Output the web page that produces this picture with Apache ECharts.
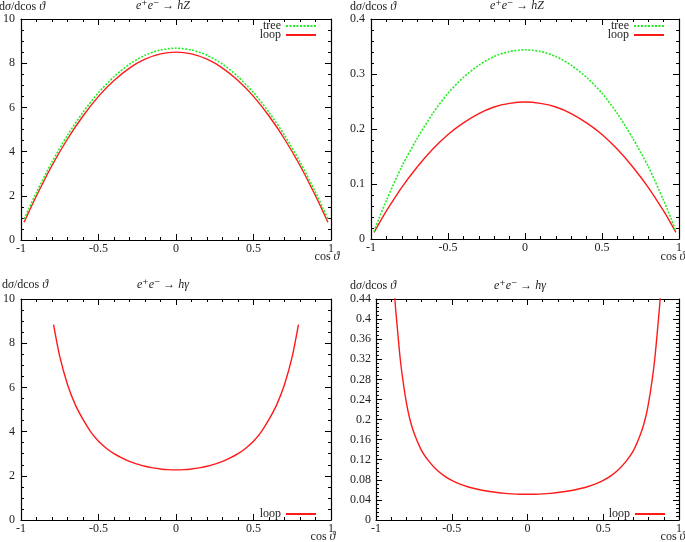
<!DOCTYPE html>
<html>
<head>
<meta charset="utf-8">
<script src="https://cdn.jsdelivr.net/npm/echarts@6/dist/echarts.min.js"></script>
<style>html,body{margin:0;padding:0;background:#fff}#c{width:685px;height:542px}</style>
</head>
<body>
<div id="c"></div>
<script>
// ---- data ----
const cosHZ = [-0.98,-0.95,-0.9,-0.8,-0.7,-0.6,-0.5,-0.4,-0.3,-0.2,-0.1,0,0.1,0.2,0.3,0.4,0.5,0.6,0.7,0.8,0.9,0.95,0.98];
const hZ1tree = [0.95,1.41,2.16,3.53,4.74,5.78,6.67,7.39,7.96,8.36,8.60,8.68,8.60,8.36,7.96,7.39,6.67,5.78,4.74,3.53,2.16,1.41,0.95];
const hZ1loop = [0.80,1.26,2.00,3.37,4.57,5.61,6.50,7.22,7.78,8.18,8.42,8.50,8.42,8.18,7.78,7.22,6.50,5.61,4.57,3.37,2.00,1.26,0.80];
const hZ2tree = [0.0136,0.036,0.070,0.132,0.183,0.228,0.265,0.294,0.316,0.332,0.341,0.344,0.341,0.332,0.316,0.294,0.265,0.228,0.183,0.132,0.070,0.036,0.0136];
const hZ2loop = [0.012,0.027,0.051,0.094,0.131,0.163,0.190,0.211,0.228,0.240,0.2465,0.249,0.2465,0.240,0.228,0.211,0.190,0.163,0.131,0.094,0.051,0.027,0.012];

const cosHG1 = [-0.79,-0.75,-0.7,-0.65,-0.6,-0.55,-0.5,-0.45,-0.4,-0.35,-0.3,-0.25,-0.2,-0.15,-0.1,-0.05,0,0.05,0.1,0.15,0.2,0.25,0.3,0.35,0.4,0.45,0.5,0.55,0.6,0.65,0.7,0.75,0.79];
const hG1loop = [8.84,7.40,6.13,5.22,4.55,3.99,3.56,3.25,3.00,2.81,2.65,2.53,2.43,2.36,2.31,2.28,2.27,2.28,2.31,2.36,2.43,2.53,2.65,2.81,3.00,3.25,3.56,3.99,4.55,5.22,6.13,7.40,8.84];

const cosHG2 = [-0.89,-0.875,-0.86,-0.84,-0.82,-0.8,-0.78,-0.75,-0.7,-0.65,-0.6,-0.55,-0.5,-0.45,-0.4,-0.35,-0.3,-0.25,-0.2,-0.15,-0.1,-0.05,0,0.05,0.1,0.15,0.2,0.25,0.3,0.35,0.4,0.45,0.5,0.55,0.6,0.65,0.7,0.75,0.78,0.8,0.82,0.84,0.86,0.875,0.89];
const hG2loop = [0.523,0.438,0.385,0.3205,0.273,0.2347,0.205,0.174,0.1387,0.1167,0.100,0.0879,0.0788,0.0719,0.0667,0.0627,0.0593,0.0568,0.0547,0.0531,0.0520,0.0514,0.0512,0.0514,0.0520,0.0531,0.0547,0.0568,0.0593,0.0627,0.0667,0.0719,0.0788,0.0879,0.100,0.1167,0.1387,0.174,0.205,0.2347,0.273,0.3205,0.385,0.438,0.523];

const xTicks = {min:-1, max:1, interval:0.5};
const yScales = [
  {min:0, max:10, interval:2, minor:4},
  {min:0, max:0.4, interval:0.1, minor:5},
  {min:0, max:10, interval:2, minor:4},
  {min:0, max:0.44, interval:0.04, minor:5}
];

// ---- layout ----
const FONT = "'Liberation Serif','DejaVu Serif',serif";
const grids = [
  {left:20, top:19, width:311, height:221},
  {left:371, top:19, width:308, height:220},
  {left:20, top:299, width:311, height:221},
  {left:376, top:299, width:303, height:221}
];
const labelStyle = {fontFamily:FONT, fontSize:12, color:'#222'};
function fmt(v){ return String(+(+v).toFixed(3)); }

const xAxis = [], yAxis = [];
grids.forEach((g,i)=>{
  const common = {type:'value', gridIndex:i, splitLine:{show:false},
    axisLine:{show:true, onZero:false, lineStyle:{color:'#000', width:1.2}},
    axisTick:{show:true, inside:true, length:6, lineStyle:{color:'#000'}},
  };
  xAxis.push(Object.assign({}, common, {position:'bottom', min:xTicks.min, max:xTicks.max, interval:xTicks.interval,
    minorTick:{show:true, splitNumber:5, length:3, lineStyle:{color:'#000'}},
    axisLabel:Object.assign({margin:3, formatter:fmt}, labelStyle)}));
  xAxis.push(Object.assign({}, common, {position:'top', min:xTicks.min, max:xTicks.max, interval:xTicks.interval,
    minorTick:{show:true, splitNumber:5, length:3, lineStyle:{color:'#000'}},
    axisLabel:{show:false}}));
  const ys = yScales[i];
  yAxis.push(Object.assign({}, common, {position:'left', min:ys.min, max:ys.max, interval:ys.interval,
    minorTick:{show:true, splitNumber:ys.minor, length:3, lineStyle:{color:'#000'}},
    axisLabel:Object.assign({margin:i===3?5:6, formatter:fmt}, labelStyle)}));
  yAxis.push(Object.assign({}, common, {position:'right', min:ys.min, max:ys.max, interval:ys.interval,
    minorTick:{show:true, splitNumber:ys.minor, length:3, lineStyle:{color:'#000'}},
    axisLabel:{show:false}}));
});

function pairs(xs, ys){ return xs.map((x,k)=>[x, ys[k]]); }
const RED = '#ff1a1a', GREEN = '#22ee22';
function lineSeries(name, gi, data, color, dotted){
  return {type:'line', name:name, xAxisIndex:2*gi, yAxisIndex:2*gi, data:data,
    smooth:0.25, symbol:'none', showSymbol:false, clip:true, z: dotted?3:2,
    lineStyle:{color:color, width:dotted?1.6:1.4, type: dotted?[2,1.5]:'solid'},
    itemStyle:{color:color}};
}
const series = [
  lineSeries('tree',0,pairs(cosHZ,hZ1tree),GREEN,true),
  lineSeries('loop',0,pairs(cosHZ,hZ1loop),RED,false),
  lineSeries('tree',1,pairs(cosHZ,hZ2tree),GREEN,true),
  lineSeries('loop',1,pairs(cosHZ,hZ2loop),RED,false),
  lineSeries('loop',2,pairs(cosHG1,hG1loop),RED,false),
  lineSeries('loop',3,pairs(cosHG2,hG2loop),RED,false)
];

const legendBase = {orient:'vertical', align:'right', itemWidth:30, itemHeight:9, itemGap:-3, padding:0,
  selectedMode:false, itemStyle:{opacity:0, color:'rgba(0,0,0,0)', borderWidth:0},
  textStyle:Object.assign({padding:[0,0,0,0]}, labelStyle)};
const legend = [
  Object.assign({}, legendBase, {data:['tree','loop'], right:368, top:20}),
  Object.assign({}, legendBase, {data:['tree','loop'], right:20, top:20}),
  Object.assign({}, legendBase, {data:['loop'], right:368, top:508}),
  Object.assign({}, legendBase, {data:['loop'], right:19, top:508})
];

function txt(x,y,rich,align){
  return {type:'text', x:x, y:y, style:{text:rich, align:align, verticalAlign:'middle',
    font:"12px "+FONT, fill:'#222',
    rich:{i:{fontStyle:'italic', fontFamily:FONT, fontSize:12, fill:'#222'}}}};
}
const titlePos = [[163,6],[517,6],[163,285],[520,286]];
const ynamePos = [[-1,7],[350,7],[2,285],[350,286]];
const xnamePos = [[327,257],[673,257],[323,537],[673,537]];
const graphic = [];
for(let i=0;i<4;i++){
  const rich = i<2 ? '{i|e}\u207A{i|e}\u207B \u2192 {i|hZ}' : '{i|e}\u207A{i|e}\u207B \u2192 {i|h\u03B3}';
  graphic.push(txt(titlePos[i][0], titlePos[i][1], rich, 'center'));
  graphic.push(txt(ynamePos[i][0], ynamePos[i][1], 'd{i|\u03C3}/dcos {i|\u03D1}', 'left'));
  graphic.push(txt(xnamePos[i][0], xnamePos[i][1], 'cos {i|\u03D1}', 'center'));
}

const chart = echarts.init(document.getElementById('c'));
chart.setOption({animation:false, backgroundColor:'#fff', grid:grids, xAxis:xAxis, yAxis:yAxis,
  series:series, legend:legend, graphic:graphic});
</script>
</body>
</html>
